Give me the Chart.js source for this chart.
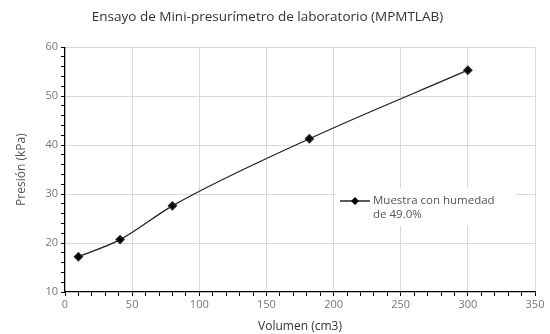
<!DOCTYPE html>
<html>
<head>
<meta charset="utf-8">
<script src="https://cdn.jsdelivr.net/npm/chart.js@4/dist/chart.umd.min.js"></script>
<style>
  html, body { margin: 0; padding: 0; background: #fff; }
  #wrap { width: 550px; height: 334px; }
</style>
</head>
<body>
<div id="wrap"><canvas id="grafico"></canvas></div>
<script>
// Datos
const volumen = [10, 41, 80, 182, 300];
const presion = [17.2, 20.7, 27.6, 41.3, 55.3];
const etiquetaSerie = ['Muestra con humedad', 'de 49.0%'];
const tituloGrafico = 'Ensayo de Mini-presurímetro de laboratorio (MPMTLAB)';

const fuente = "'Open Sans', 'Noto Sans', sans-serif";

// Leyenda dentro del área del gráfico
const leyendaInterna = {
    id: 'leyendaInterna',
    afterDraw(chart) {
        const ctx = chart.ctx;
        const x = 340, y = 190;
        ctx.save();
        ctx.fillStyle = '#fff';
        ctx.fillRect(x - 4, y - 2, 180, 38);
        ctx.strokeStyle = '#000';
        ctx.lineWidth = 1.3;
        ctx.beginPath();
        ctx.moveTo(x, y + 11);
        ctx.lineTo(x + 30, y + 11);
        ctx.stroke();
        ctx.fillStyle = '#000';
        ctx.beginPath();
        ctx.moveTo(x + 15, y + 7);
        ctx.lineTo(x + 19, y + 11);
        ctx.lineTo(x + 15, y + 15);
        ctx.lineTo(x + 11, y + 11);
        ctx.closePath();
        ctx.fill();
        ctx.fillStyle = '#555';
        ctx.font = '11.5px ' + fuente;
        ctx.textBaseline = 'middle';
        etiquetaSerie.forEach((linea, i) => {
            ctx.fillText(linea, x + 33, y + 11 + i * 14);
        });
        ctx.restore();
    }
};

new Chart(document.getElementById('grafico'), {
    type: 'line',
    data: {
        datasets: [{
            label: etiquetaSerie.join(' '),
            data: volumen.map((v, i) => ({ x: v, y: presion[i] })),
            borderColor: '#222',
            borderWidth: 1.3,
            backgroundColor: '#000',
            pointStyle: 'rectRot',
            pointRadius: 4,
            tension: 0.4,
            cubicInterpolationMode: 'monotone'
        }]
    },
    options: {
        responsive: true,
        maintainAspectRatio: false,
        animation: false,
        layout: { padding: { left: 0, right: 15, top: 0, bottom: 0 } },
        plugins: {
            legend: { display: false },
            tooltip: { enabled: false },
            title: {
                display: true,
                text: tituloGrafico,
                color: '#333',
                font: { family: fuente, size: 13.5, weight: 'normal' },
                padding: { top: 9, bottom: 22 }
            }
        },
        scales: {
            x: {
                type: 'linear',
                min: 0,
                max: 350,
                ticks: {
                    stepSize: 10,
                    autoSkip: false,
                    maxRotation: 0,
                    color: '#777',
                    font: { family: fuente, size: 11 },
                    padding: 2,
                    callback: v => (v % 50 === 0 ? v : '')
                },
                grid: {
                    color: c => (c.tick && c.tick.value % 50 === 0 && c.tick.value !== 0 ? '#d9d9d9' : 'rgba(0,0,0,0)'),
                    tickColor: '#000',
                    tickLength: 4,
                    lineWidth: 1
                },
                border: { color: '#000', width: 1.3 },
                title: {
                    display: true,
                    text: 'Volumen (cm3)',
                    color: '#333',
                    font: { family: fuente, size: 12 },
                    padding: { top: 0, bottom: 0 }
                },
                afterFit: s => { s.height = 42; }
            },
            y: {
                min: 10,
                max: 60,
                ticks: {
                    stepSize: 2,
                    autoSkip: false,
                    color: '#777',
                    font: { family: fuente, size: 11 },
                    padding: 3,
                    callback: v => (v % 10 === 0 ? v : '')
                },
                grid: {
                    color: c => (c.tick && c.tick.value % 10 === 0 && c.tick.value !== 10 ? '#d9d9d9' : 'rgba(0,0,0,0)'),
                    tickColor: '#000',
                    tickLength: 4,
                    lineWidth: 1
                },
                border: { color: '#000', width: 1.3 },
                title: {
                    display: true,
                    text: 'Presión (kPa)',
                    color: '#555',
                    font: { family: fuente, size: 12 },
                    padding: { top: 14, bottom: 6 }
                },
                afterFit: s => { s.width = 65; }
            }
        }
    },
    plugins: [leyendaInterna]
});
</script>
</body>
</html>
